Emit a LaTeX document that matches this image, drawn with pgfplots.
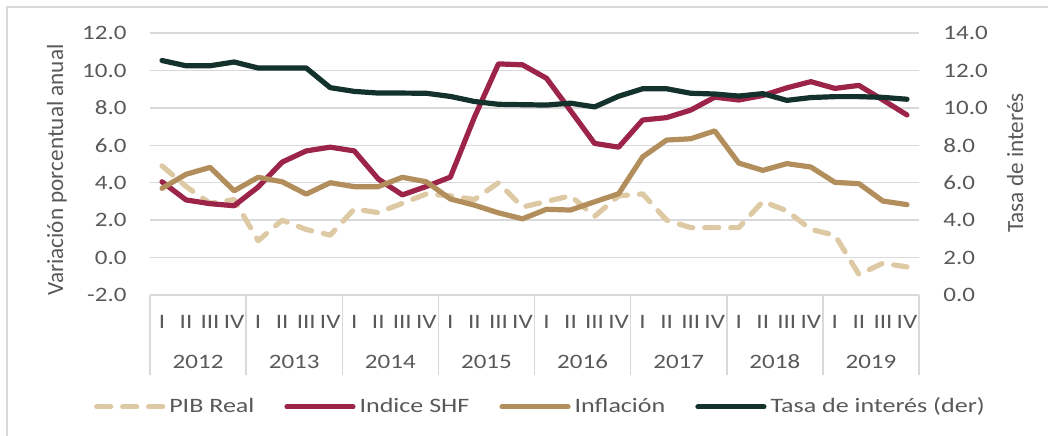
\documentclass[border=0pt]{standalone}
\usepackage{fontspec}
\setmainfont{Carlito}
\usepackage{graphicx}
\usepackage{pgfplots}
\usepackage{pgfplotstable}
\pgfplotsset{compat=1.18}

\definecolor{guinda}{HTML}{9D2449}
\definecolor{dorado}{HTML}{B38E5D}
\definecolor{verde}{HTML}{13322B}
\definecolor{beige}{HTML}{DDC9A3}
\definecolor{txt}{HTML}{595959}
\definecolor{grd}{HTML}{D9D9D9}

\newcommand\tf{\fontsize{10.25bp}{12bp}\selectfont}
\newcommand\ttl{\fontsize{11.6bp}{14bp}\selectfont}
\newcommand\sx[1]{\scalebox{1.27}[1]{#1}}

% trimestres 2012 I - 2019 IV
\pgfplotstableread{
x    pib   shf    inf   tasa
0.5   4.9   4.05  3.70  12.53
1.5   3.8   3.08  4.45  12.25
2.5   2.9   2.88  4.82  12.25
3.5   3.1   2.77  3.57  12.45
4.5   0.9   3.77  4.29  12.13
5.5   2.0   5.10  4.05  12.13
6.5   1.5   5.70  3.39  12.13
7.5   1.2   5.90  4.00  11.08
8.5   2.6   5.70  3.79  10.88
9.5   2.4   4.20  3.79  10.79
10.5  2.9   3.35  4.29  10.79
11.5  3.4   3.80  4.05  10.78
12.5  3.3   4.30  3.13  10.61
13.5  3.1   7.50  2.80  10.34
14.5  4.0  10.35  2.39  10.19
15.5  2.7  10.30  2.07  10.17
16.5  3.0   9.58  2.58  10.15
17.5  3.3   7.85  2.54  10.25
18.5  2.2   6.10  2.98  10.05
19.5  3.3   5.90  3.41  10.62
20.5  3.4   7.35  5.38  11.02
21.5  2.0   7.48  6.28  11.02
22.5  1.6   7.88  6.35  10.78
23.5  1.6   8.57  6.77  10.74
24.5  1.6   8.42  5.05  10.63
25.5  3.0   8.66  4.66  10.76
26.5  2.5   9.07  5.02  10.40
27.5  1.5   9.40  4.84  10.55
28.5  1.2   9.04  4.02  10.60
29.5 -0.9   9.20  3.95  10.60
30.5 -0.3   8.42  3.02  10.56
31.5 -0.5   7.62  2.83  10.46
}\datos

\pgfplotsset{
  base/.style={
    at={(75bp,-147.5bp)}, anchor=south west,
    width=384.5bp, height=131bp, scale only axis,
    xmin=0, xmax=32,
    major tick length=0pt,
    tick label style={font=\tf, text=txt, inner sep=0pt},
    /pgf/number format/fixed,
    /pgf/number format/fixed zerofill,
    /pgf/number format/precision=1,
    /pgf/number format/assume math mode=true,
  },
  serie/.style={line width=2.6bp, line join=round, line cap=round, no markers},
}

\begin{document}
\begin{tikzpicture}
\useasboundingbox (0,0) rectangle (524bp,-218bp);
\draw[grd, line width=0.75bp] (3.5bp,-218bp) -- (3.5bp,-3.5bp) -- (524bp,-3.5bp);

\begin{axis}[base,
  axis x line*=bottom, axis y line*=left,
  y axis line style={draw=none},
  x axis line style={draw=grd, line width=0.75bp},
  ymin=-2, ymax=12, ytick={-2,0,...,12},
  ymajorgrids, grid style={draw=grd, line width=0.75bp},
  yticklabel style={anchor=east, xshift=-11.5bp, xscale=1.22},
  xtick={0.5,1.5,...,31.5},
  xticklabels={I,II,III,IV,I,II,III,IV,I,II,III,IV,I,II,III,IV,I,II,III,IV,I,II,III,IV,I,II,III,IV,I,II,III,IV},
  xticklabel style={anchor=base, yshift=-16.75bp, xscale=1.22},
  extra x ticks={0,4,...,32},
  extra x tick labels={},
  extra x tick style={tick align=outside, major tick length=40bp,
    tick style={draw=grd, line width=0.75bp}},
  ylabel={Variación porcentual anual},
  every axis y label/.style={at={(axis description cs:-0.121,0.477)},
    rotate=90, anchor=center, font=\ttl, text=txt},
  legend columns=4,
  legend cell align=left,
  legend style={draw=none, fill=none, at={(axis description cs:0.509,-0.427)},
    anchor=center, font=\tf, text=txt,
    /tikz/every even column/.append style={column sep=13bp}},
  legend image code/.code={\draw[#1] (0bp,0bp) -- (33bp,0bp);},
]
\addplot[serie, beige, dash pattern=on 7bp off 6bp] table[x=x, y=pib] {\datos};
\addlegendentry{\sx{PIB Real}}
\addplot[serie, guinda] table[x=x, y=shf] {\datos};
\addlegendentry{\sx{Indice SHF}}
\addplot[serie, dorado] table[x=x, y=inf] {\datos};
\addlegendentry{\sx{Inflación}}
\addlegendimage{serie, verde}
\addlegendentry{\sx{Tasa de interés (der)}}
\end{axis}

\begin{axis}[base,
  axis x line*=bottom, axis y line*=right,
  x axis line style={draw=none}, y axis line style={draw=none},
  ymin=0, ymax=14, ytick={0,2,...,14},
  yticklabel style={anchor=west, xshift=12bp, xscale=1.22},
  xtick={2,6,...,30},
  xticklabels={2012,2013,2014,2015,2016,2017,2018,2019},
  xticklabel style={anchor=base, yshift=-36.75bp, xscale=1.22},
  ylabel={Tasa de interés},
  every axis y label/.style={at={(axis description cs:1.125,0.504)},
    rotate=90, anchor=center, font=\ttl, text=txt},
]
\addplot[serie, verde] table[x=x, y=tasa] {\datos};
\end{axis}
\end{tikzpicture}
\end{document}
